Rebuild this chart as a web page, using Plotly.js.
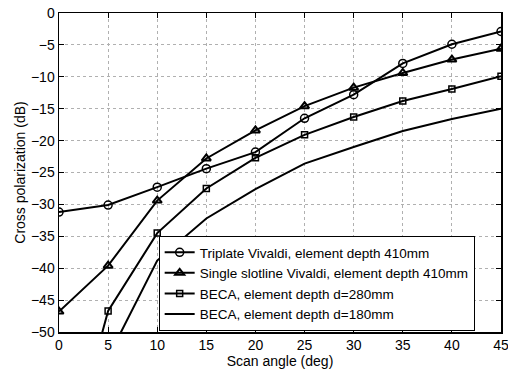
<!DOCTYPE html>
<html>
<head>
<meta charset="utf-8">
<script src="https://cdn.plot.ly/plotly-3.0.1.min.js"></script>
<style>html,body{margin:0;padding:0;background:#fff;}#chart{width:508px;height:371px;}</style>
</head>
<body>
<div id="chart"></div>
<script>
const scanAngle = [0, 5, 10, 15, 20, 25, 30, 35, 40, 45];
const triplate410 = [-31.2, -30.1, -27.3, -24.4, -21.8, -16.5, -12.8, -7.9, -4.9, -2.9];
const slotline410 = [-46.8, -39.6, -29.4, -22.8, -18.4, -14.6, -11.7, -9.4, -7.3, -5.6];
const beca280 = [-75, -46.7, -34.5, -27.5, -22.7, -19.1, -16.3, -13.8, -11.9, -9.9];
const beca180 = [-70, -54, -38.8, -32.2, -27.6, -23.6, -21.0, -18.5, -16.6, -15.0];
const names = [
  "Triplate Vivaldi, element depth 410mm",
  "Single slotline Vivaldi, element depth 410mm",
  "BECA, element depth d=280mm",
  "BECA, element depth d=180mm"
];
const xTicks = [0, 5, 10, 15, 20, 25, 30, 35, 40, 45];
const yTicks = [0, -5, -10, -15, -20, -25, -30, -35, -40, -45, -50];
const yTickText = yTicks.map(v => v < 0 ? "\u2212" + Math.abs(v) : String(v));

const line = {color: "#000", width: 2};
const traces = [
  {x: scanAngle, y: triplate410, name: names[0], mode: "lines+markers", line: line,
   marker: {symbol: "circle-open", size: 8, color: "#000", line: {width: 1.5, color: "#000"}}},
  {x: scanAngle, y: slotline410, name: names[1], mode: "lines+markers", line: line,
   marker: {symbol: "triangle-up-open", size: 8, color: "#000", line: {width: 2, color: "#000"}}},
  {x: scanAngle, y: beca280, name: names[2], mode: "lines+markers", line: line,
   marker: {symbol: "square-open", size: 6, color: "#000", line: {width: 1.5, color: "#000"}}},
  {x: scanAngle, y: beca180, name: names[3], mode: "lines", line: line}
];

const axisCommon = {
  showline: true, mirror: "ticks", linecolor: "#000", linewidth: 1.5,
  ticks: "inside", ticklen: 5, tickcolor: "#000", tickwidth: 1,
  showgrid: true, gridcolor: "#b0b0b0", griddash: "dot", gridwidth: 1,
  zeroline: false, tickfont: {size: 14, color: "#000"}, ticklabeloverflow: "allow"
};

const layout = {
  width: 508, height: 371,
  margin: {l: 59, r: 7, t: 13, b: 39},
  paper_bgcolor: "#fff", plot_bgcolor: "#fff",
  font: {family: "Liberation Sans, Arial, sans-serif", size: 14, color: "#000"},
  showlegend: true,
  legend: {
    x: 0.2255, y: 0.152, xanchor: "left", yanchor: "middle",
    bgcolor: "#fff", bordercolor: "#000", borderwidth: 1,
    font: {size: 13.5, color: "#000"}, tracegroupgap: 0, itemwidth: 30
  },
  xaxis: Object.assign({}, axisCommon, {
    range: [0, 45], tickvals: xTicks, ticktext: xTicks.map(String),
    title: {text: "Scan angle (deg)", font: {size: 14}, standoff: 1}
  }),
  yaxis: Object.assign({}, axisCommon, {
    range: [-50, 0], tickvals: yTicks, ticktext: yTickText,
    title: {text: "Cross polarization (dB)", font: {size: 14}, standoff: 2}
  })
};

Plotly.newPlot("chart", traces, layout, {displayModeBar: false, staticPlot: true});
</script>
</body>
</html>
